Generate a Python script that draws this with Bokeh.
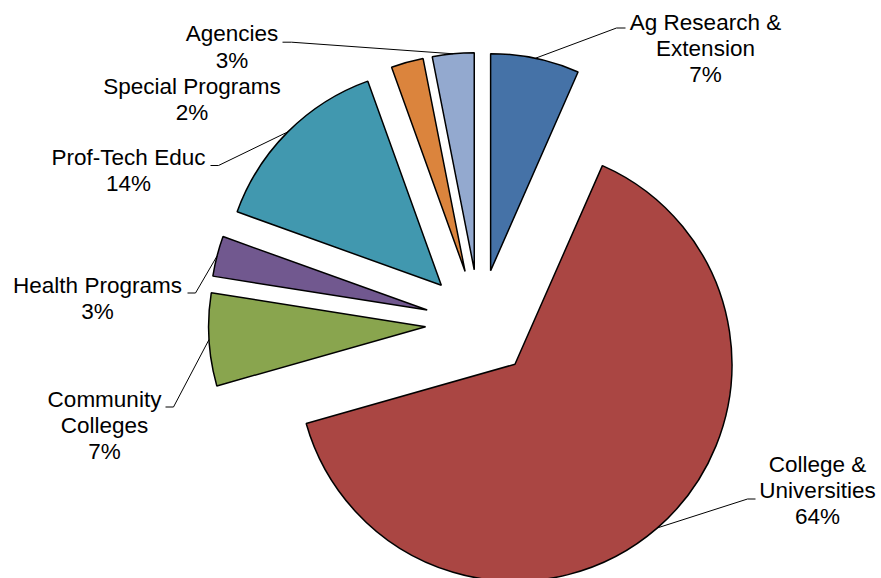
import math
from bokeh.plotting import figure
from bokeh.models import Range1d, ColumnDataSource
from bokeh.embed import file_html
from bokeh.resources import INLINE
from bokeh.core.properties import value

# ---------------- data ----------------
categories = ["Ag Research &\nExtension", "College &\nUniversities", "Community\nColleges",
              "Health Programs", "Prof-Tech Educ", "Special Programs", "Agencies"]
shares = [6.6, 64.0, 6.9, 3.0, 14.0, 2.4, 3.1]
colors = ["#4572A7", "#AA4643", "#89A54E", "#71588F", "#4198AF", "#DB843D", "#93A9CF"]

# ---------------- layout (screen pixels, y down) ----------------
W, H = 881, 578
CX, CY = 479, 323
R = 217
EXPLODE = 54
LINE_H = 26.3
TEXT_SHIFT = -8.5
label_pos = [(705, 30), (817, 472), (104, 407), (97, 293), (128, 165), (191.5, 94.5), (231.5, 41.7)]
leader_pts = [[(625, 27.5), (616, 27.5)],
              [(755, 498.5), (747, 498.5)],
              [(165, 406.5), (173, 406.5)],
              [(187, 292.5), (195, 292.5)],
              [(210, 165), (218, 165)],
              None,
              [(282, 41.7), (291, 41.7)]]

def up(sy):
    return H - sy

total = float(sum(shares))
xs, ys, starts, ends, mids = [], [], [], [], []
cum = 0.0
for s in shares:
    a0 = cum / total * 360.0
    a1 = (cum + s) / total * 360.0
    m = (a0 + a1) / 2.0
    cum += s
    mr = math.radians(m)
    xs.append(CX + EXPLODE * math.sin(mr))
    ys.append(up(CY) + EXPLODE * math.cos(mr))
    starts.append(math.radians(90 - a1))
    ends.append(math.radians(90 - a0))
    mids.append(mr)

src = ColumnDataSource(dict(x=xs, y=ys, start=starts, end=ends, color=colors))

p = figure(width=W, height=H, x_range=Range1d(0, W), y_range=Range1d(0, H),
           x_axis_type=None, y_axis_type=None, toolbar_location=None,
           output_backend="svg", min_border=0)
p.grid.visible = False
p.outline_line_color = None
p.background_fill_color = "white"
p.border_fill_color = "white"

p.wedge(x="x", y="y", radius=R, start_angle="start", end_angle="end",
        direction="anticlock", fill_color="color", line_color="black",
        line_width=1.5, source=src)

# leader lines
lx, ly = [], []
for i, pts in enumerate(leader_pts):
    if pts is None:
        continue
    ax = xs[i] + R * math.sin(mids[i])
    ay = ys[i] + R * math.cos(mids[i])
    lx.append([ax, pts[1][0], pts[0][0]])
    ly.append([ay, up(pts[1][1]), up(pts[0][1])])
p.multi_line(xs=lx, ys=ly, line_color="black", line_width=1)

# labels
tx, ty, tt = [], [], []
for i, name in enumerate(categories):
    lines = (name + "\n" + "%d%%" % int(round(shares[i]))).split("\n")
    bx, by = label_pos[i]
    for j, ln in enumerate(lines):
        tx.append(bx)
        ty.append(up(by + TEXT_SHIFT + j * LINE_H))
        tt.append(ln)
p.text(x=tx, y=ty, text=tt, text_align="center", text_baseline="alphabetic",
       text_font=value("Liberation Sans"), text_font_size="22.5px", text_color="black")

open("out.html", "w").write(file_html(p, INLINE))
